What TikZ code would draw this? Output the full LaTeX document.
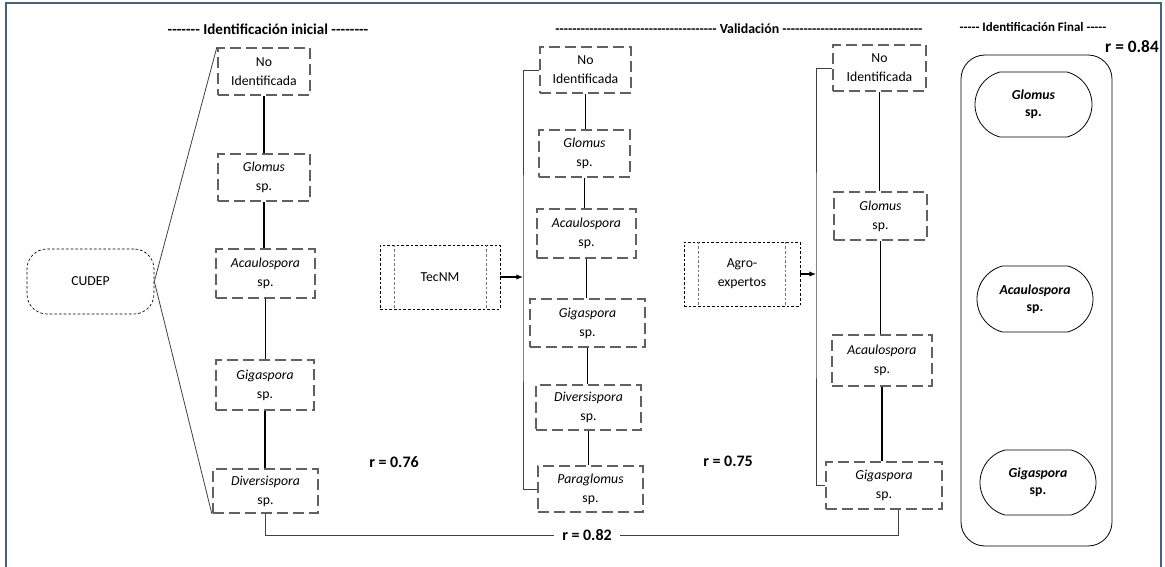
\documentclass[tikz,border=0pt]{standalone}
\usepackage{fontspec}
\setmainfont{Carlito}
\usetikzlibrary{arrows.meta,shapes.misc}
\definecolor{frameblue}{HTML}{46617C}
\newdimen\px \px=0.75pt
\newcommand\hyphs[1]{\foreach \k in {1,...,#1}{-\kern0pt}}

\begin{document}
\begin{tikzpicture}[x=0.75pt,y=-0.75pt,
    every node/.style={font=\fontsize{10.3}{14.25}\selectfont},
    taxon/.style={draw=black!62,line width=1.6pt,dash pattern=on 8pt off 4pt,align=center,inner sep=0pt},
    source/.style={draw,line width=0.5pt,dash pattern=on 2pt off 1.5pt,align=center,inner sep=0pt},
    final/.style={draw,line width=0.6pt,rounded rectangle,rounded rectangle arc length=150,align=center,inner sep=0pt,
        font=\bfseries\fontsize{10.3}{13}\selectfont},
    head/.style={font=\bfseries\fontsize{#1}{13}\selectfont},
    rval/.style={font=\bfseries\fontsize{#1}{14}\selectfont,inner sep=1pt},
    link/.style={line width=1.1pt},
    bracket/.style={line width=0.6pt,black!75},
    frame/.style={draw=frameblue,line width=1.6pt}]
    \useasboundingbox (0,0) rectangle (1165,567);
    \draw[frame] (6,567) -- (6,3) -- (1161,3) -- (1161,567);

    % encabezados
    \node[head=11.3] (hinit) at (268,29) {\hyphs{7} Identificación inicial \hyphs{8}};
    \node[head=10.4] (hval) at (739,29) {\hyphs{38} Validación \hyphs{33}};
    \node[head=9.7] (hfin) at (1033,27) {\hyphs{5} Identificación Final \hyphs{5}};

    % identificacion inicial
    \node[source,rounded corners=20\px,minimum width=127\px,minimum height=65\px] (cudep) at (90.5,281.5) {CUDEP};
    \node[taxon,minimum width=92\px,minimum height=47\px] (i1) at (264,71.5) {No\\Identificada};
    \node[taxon,minimum width=92\px,minimum height=47\px] (i2) at (264,177.5) {\textit{Glomus}\\sp.};
    \node[taxon,minimum width=99\px,minimum height=49\px] (i3) at (265.5,273.5) {\textit{Acaulospora}\\sp.};
    \node[taxon,minimum width=98\px,minimum height=50\px] (i4) at (265,385) {\textit{Gigaspora}\\sp.};
    \node[taxon,minimum width=105\px,minimum height=44\px] (i5) at (265.5,491) {\textit{Diversispora}\\sp.};
    \draw[bracket] (cudep.east) -- (i1.north west);
    \draw[bracket] (cudep.east) -- (i5.south west);
    \foreach \a/\b in {i1/i2,i2/i3,i3/i4,i4/i5}
        \draw[link] (\a.south) -- (\a.south |- \b.north);

    % validacion TecNM
    \node[source,minimum width=120\px,minimum height=64\px] (tec) at (440,277) {TecNM};
    \draw[source,black!55] ([xshift=15\px]tec.north west) -- ([xshift=15\px]tec.south west)
        ([xshift=-14\px]tec.north east) -- ([xshift=-14\px]tec.south east);
    \node[taxon,minimum width=91\px,minimum height=46\px] (v1) at (585.5,70) {No\\Identificada};
    \node[taxon,minimum width=91\px,minimum height=47\px] (v2) at (584.5,153.5) {\textit{Glomus}\\sp.};
    \node[taxon,minimum width=99\px,minimum height=49\px] (v3) at (586.5,233.5) {\textit{Acaulospora}\\sp.};
    \node[taxon,minimum width=115\px,minimum height=48\px] (v4) at (587.5,323) {\textit{Gigaspora}\\sp.};
    \node[taxon,minimum width=105\px,minimum height=45\px] (v5) at (588.5,407.5) {\textit{Diversispora}\\sp.};
    \node[taxon,minimum width=105\px,minimum height=46\px] (v6) at (590.5,489) {\textit{Paraglomus}\\sp.};
    \foreach \a/\b in {v1/v2,v2/v3,v3/v4,v4/v5,v5/v6}
        \draw[link] (\a.south) -- (\a.south |- \b.north);
    \coordinate (tb) at (523,277);
    \draw[bracket] (v1.west) -| (tb) |- (v6.west);
    \draw[line width=0.8pt,-{Latex[length=5pt,width=4pt]}] (tec.east) -- (tb);

    % validacion Agro-expertos
    \node[source,minimum width=116\px,minimum height=64\px] (agro) at (742,274) {Agro-\\expertos};
    \draw[source,black!55] ([xshift=15\px]agro.north west) -- ([xshift=15\px]agro.south west)
        ([xshift=-15\px]agro.north east) -- ([xshift=-15\px]agro.south east);
    \node[taxon,minimum width=93\px,minimum height=46\px] (a1) at (879.5,68) {No\\Identificada};
    \node[taxon,minimum width=93\px,minimum height=48\px] (a2) at (880.5,216) {\textit{Glomus}\\sp.};
    \node[taxon,minimum width=100\px,minimum height=51\px] (a3) at (882,360.5) {\textit{Acaulospora}\\sp.};
    \node[taxon,minimum width=116\px,minimum height=47\px] (a4) at (884,485.5) {\textit{Gigaspora}\\sp.};
    \foreach \a/\b in {a1/a2,a2/a3,a3/a4}
        \draw[link] (\a.south) -- (\a.south |- \b.north);
    \coordinate (ab) at (816,274);
    \draw[bracket] (a1.west) -| (ab) |- (a4.west);
    \draw[line width=0.8pt,-{Latex[length=5pt,width=4pt]}] (agro.east) -- (ab);

    % identificacion final
    \node[draw,line width=0.6pt,rounded corners=24\px,minimum width=151\px,minimum height=491\px] (fin) at (1036.5,300.5) {};
    \node[final,minimum width=117\px,minimum height=65\px] (f1) at (1033.5,104.5) {\textit{Glomus}\\sp.};
    \node[final,minimum width=116\px,minimum height=66\px] (f2) at (1035,299) {\textit{Acaulospora}\\sp.};
    \node[final,minimum width=116\px,minimum height=65\px] (f3) at (1038,482.5) {\textit{Gigaspora}\\sp.};

    % correlaciones
    \node[rval=12] (r76) at (394,462) {r = 0.76};
    \node[rval=12] (r75) at (728,461) {r = 0.75};
    \node[rval=13] (r84) at (1132,47) {r = 0.84};
    \node[rval=12,inner xsep=6pt] (r82) at (587,535) {r = 0.82};
    \draw[bracket] (i5.south) |- (r82.west);
    \draw[bracket] (r82.east) -| ([xshift=14\px]a4.south);
\end{tikzpicture}
\end{document}
